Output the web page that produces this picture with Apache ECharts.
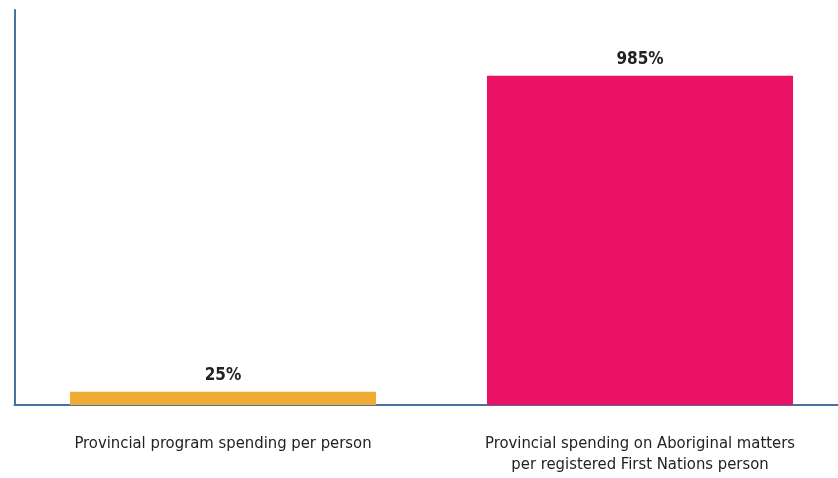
<!DOCTYPE html>
<html><head><meta charset="utf-8">
<script src="https://cdn.jsdelivr.net/npm/echarts@6/dist/echarts.min.js"></script>
<style>html,body{margin:0;padding:0;background:#fff}#c{width:838px;height:478px}</style>
</head><body><div id="c"></div>
<script>
const categories = ['Provincial program spending per person', 'Provincial spending on Aboriginal matters\nper registered First Nations person'];
const values = [25, 985];
const colors = ['#EFAE33', '#EC1367'];
const yMin = -15, yMax = 1185;
const font = '"Liberation Sans Narrow", "DejaVu Sans Condensed", sans-serif';
const chart = echarts.init(document.getElementById('c'));
chart.setOption({
  animation: false,
  grid: {left: 14.5, width: 834, top: 10, bottom: 73, containLabel: false, outerBoundsMode: 'none'},
  xAxis: {
    type: 'category', data: categories,
    axisLine: {onZero: false, lineStyle: {color: '#4A6FA5', width: 2}},
    axisTick: {show: false},
    axisLabel: {margin: 28, color: '#222', fontFamily: font, fontSize: 16.5, lineHeight: 21, interval: 0}
  },
  yAxis: {
    type: 'value', min: yMin, max: yMax,
    axisLine: {show: true, lineStyle: {color: '#4A6FA5', width: 2}},
    axisTick: {show: false}, axisLabel: {show: false}, splitLine: {show: false}
  },
  series: [{
    type: 'custom',
    data: values.map((v, i) => [i, v]),
    renderItem: function (params, api) {
      const i = api.value(0), v = api.value(1);
      const top = api.coord([i, v]);
      const base = api.coord([i, yMin]);
      const band = api.size([1, 0])[0];
      const w = band * 0.734;
      return {
        type: 'group',
        children: [
          {type: 'rect', shape: {x: top[0] - w / 2, y: top[1], width: w, height: base[1] - top[1]},
           style: {fill: colors[i]}},
          {type: 'text', x: top[0], y: top[1] - 8,
           style: {text: v + '%', align: 'center', verticalAlign: 'bottom', fill: '#222',
                   font: 'bold 17px ' + font}}
        ]
      };
    },
    z: 1
  }]
});
</script></body></html>
